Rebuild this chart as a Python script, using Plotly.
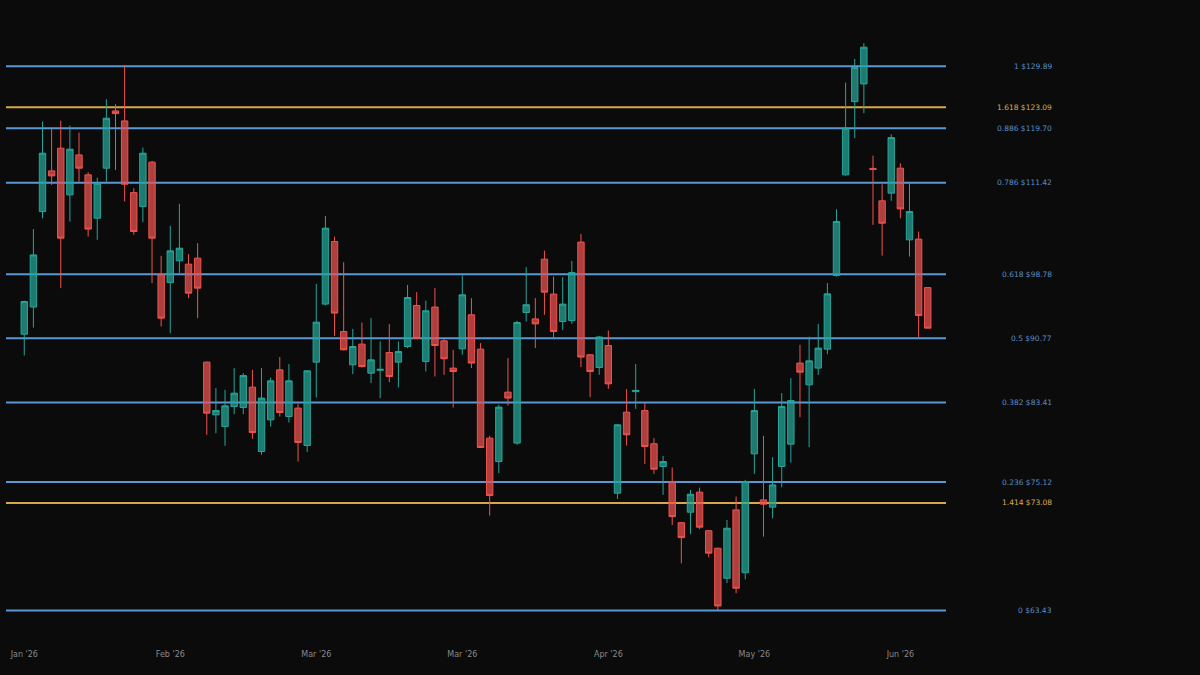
import numpy as np
import plotly.graph_objects as go

# Daily OHLC bars
opens = [91.27, 94.59, 107.27, 113.18, 116.61, 109.66, 115.59, 112.59, 106.34, 113.58,
         122.49, 120.88, 109.99, 107.98, 114.49, 98.69, 97.69, 100.53, 100.09, 100.89,
         87.97, 82.07, 80.81, 82.97, 82.86, 85.12, 78.20, 81.53, 87.08, 81.89,
         82.80, 78.82, 87.97, 94.96, 103.12, 91.59, 87.66, 90.08, 86.70, 87.03,
         89.09, 87.97, 89.80, 94.79, 88.04, 94.59, 90.47, 87.28, 89.53, 93.63,
         89.49, 79.59, 77.17, 84.56, 79.07, 93.92, 93.13, 100.75, 96.22, 92.80,
         92.92, 103.04, 88.83, 87.35, 89.92, 74.02, 82.36, 84.62, 82.53, 79.00,
         76.67, 75.16, 71.20, 72.19, 74.12, 70.45, 68.84, 66.17, 72.41, 66.66,
         77.96, 73.37, 72.67, 76.67, 78.96, 87.86, 85.38, 87.28, 89.49, 98.60,
         112.59, 123.99, 126.92, 113.55, 108.80, 109.91, 113.58, 103.35, 103.45, 97.05]
highs = [95.40, 104.82, 120.77, 119.82, 120.93, 120.14, 119.04, 112.99, 112.18, 124.39,
         123.57, 129.97, 110.63, 116.70, 114.68, 101.19, 105.27, 108.37, 101.42, 102.90,
         88.05, 85.01, 84.82, 87.28, 86.70, 87.08, 87.28, 86.20, 88.56, 87.74,
         83.27, 87.00, 97.53, 106.66, 103.80, 100.36, 91.91, 92.68, 93.22, 90.39,
         92.49, 90.39, 97.40, 96.47, 95.41, 96.98, 90.67, 89.41, 98.60, 95.71,
         90.20, 79.83, 83.16, 88.44, 92.89, 99.70, 95.71, 101.89, 98.47, 98.39,
         100.53, 104.17, 88.91, 91.07, 91.71, 81.07, 84.90, 87.74, 83.35, 79.59,
         77.75, 76.56, 71.25, 74.34, 74.57, 70.50, 68.90, 71.46, 73.69, 75.33,
         84.93, 79.83, 77.62, 84.45, 86.13, 90.00, 90.97, 92.52, 97.62, 107.61,
         127.13, 131.17, 133.93, 115.48, 111.21, 118.78, 114.33, 111.36, 104.49, 97.05]
lows = [88.74, 92.07, 106.34, 111.11, 96.98, 105.87, 111.59, 103.80, 103.35, 111.59,
        113.33, 108.70, 104.04, 105.78, 97.62, 92.19, 91.39, 98.91, 95.71, 93.22,
        79.94, 80.11, 78.79, 82.15, 82.15, 79.52, 77.86, 80.81, 81.89, 81.24,
        77.17, 78.16, 83.97, 94.79, 91.07, 89.35, 86.59, 87.35, 85.57, 83.90,
        85.68, 85.08, 89.61, 90.70, 86.89, 86.32, 86.51, 82.86, 88.83, 87.28,
        78.55, 71.87, 76.00, 83.08, 78.89, 92.80, 89.61, 93.63, 90.67, 91.79,
        92.52, 87.39, 84.01, 86.51, 84.93, 73.47, 78.82, 82.72, 76.93, 75.93,
        73.86, 70.99, 67.49, 70.15, 70.59, 68.03, 63.46, 65.75, 64.88, 66.08,
        75.93, 69.90, 71.62, 74.60, 77.06, 81.82, 78.65, 86.51, 88.91, 98.47,
        112.50, 118.16, 122.12, 105.41, 101.23, 108.80, 106.34, 101.10, 90.84, 92.00]
closes = [95.29, 101.32, 115.85, 112.44, 103.58, 116.46, 113.58, 104.82, 111.36, 121.31,
          122.05, 111.21, 104.49, 115.85, 103.58, 93.22, 101.86, 102.22, 96.34, 96.98,
          82.25, 82.53, 83.05, 84.45, 86.43, 80.18, 83.90, 85.83, 82.32, 85.83,
          79.13, 86.97, 92.73, 104.95, 93.84, 89.41, 89.80, 87.46, 88.24, 87.14,
          86.32, 89.21, 95.79, 90.77, 94.13, 89.92, 88.36, 86.89, 96.13, 87.86,
          78.61, 73.79, 82.91, 83.90, 92.68, 94.88, 92.52, 96.47, 91.59, 94.96,
          98.99, 88.56, 86.89, 90.94, 85.49, 81.00, 79.94, 84.76, 78.72, 76.40,
          77.17, 71.77, 69.81, 73.92, 70.78, 68.40, 63.80, 70.68, 65.31, 75.16,
          82.53, 72.96, 74.83, 82.97, 83.63, 86.82, 88.12, 89.61, 96.25, 105.87,
          119.73, 129.68, 133.21, 113.40, 105.64, 118.25, 107.65, 107.27, 93.54, 92.00]

# Month labels, one every 16 bars
tick_labels = ["Jan '26", "Feb '26", "Mar '26", "Mar '26", "Apr '26", "May '26", "Jun '26"]
tick_step = 16

# Fibonacci levels (retracement in blue, extensions in gold)
level_ratios = ["1", "1.618", "0.886", "0.786", "0.618", "0.5", "0.382", "0.236", "1.414", "0"]
level_prices = [129.89, 123.09, 119.70, 111.42, 98.78, 90.77, 83.41, 75.12, 73.08, 63.43]
extension_ratios = ["1.618", "1.414"]

BG = "#0b0b0b"
BLUE_LINE = "#5b97d2"
BLUE_TEXT = "#5a8dc6"
GOLD_LINE = "#d6a84e"
GOLD_TEXT = "#d8ad55"
UP = "#26a69a"
DOWN = "#ef5350"

bars = list(range(len(opens)))

fig = go.Figure()
fig.add_trace(go.Candlestick(
    x=bars, open=opens, high=highs, low=lows, close=closes,
    increasing=dict(line=dict(color=UP, width=1), fillcolor="rgba(38,166,154,0.72)"),
    decreasing=dict(line=dict(color=DOWN, width=1), fillcolor="rgba(239,83,80,0.72)"),
    whiskerwidth=0, hoverinfo="skip", showlegend=False,
))

shapes = []
annotations = []
for ratio, price in zip(level_ratios, level_prices):
    is_ext = ratio in extension_ratios
    shapes.append(dict(
        type="line", xref="paper", x0=0, x1=1, yref="y", y0=price, y1=price,
        line=dict(color=GOLD_LINE if is_ext else BLUE_LINE, width=2), layer="below",
    ))
    annotations.append(dict(
        xref="paper", x=1.1149, xanchor="right", yref="y", y=np.log10(price),
        yanchor="middle", text=f"{ratio} ${price:.2f}", showarrow=False,
        font=dict(family="DejaVu Sans", size=7.5, color=GOLD_TEXT if is_ext else BLUE_TEXT),
    ))

fig.update_layout(
    width=1200, height=675,
    paper_bgcolor=BG, plot_bgcolor=BG,
    margin=dict(l=6, r=254, t=20, b=30),
    shapes=shapes, annotations=annotations,
    showlegend=False,
    boxgap=0.3, boxgroupgap=0,
    font=dict(family="DejaVu Sans", size=8, color="#8a8a8a"),
    xaxis=dict(
        range=[-2, len(opens) + 1],
        tickvals=[i * tick_step for i in range(len(tick_labels))],
        ticktext=tick_labels,
        showgrid=False, zeroline=False, showline=False, ticks="",
        ticklabelstandoff=3,
        tickfont=dict(family="DejaVu Sans", size=8, color="#8a8a8a"),
        rangeslider=dict(visible=False),
    ),
    yaxis=dict(
        type="log", range=[1.78249, 2.14010],
        showgrid=False, zeroline=False, showline=False, showticklabels=False, ticks="",
    ),
)

fig.write_html("out.html")
